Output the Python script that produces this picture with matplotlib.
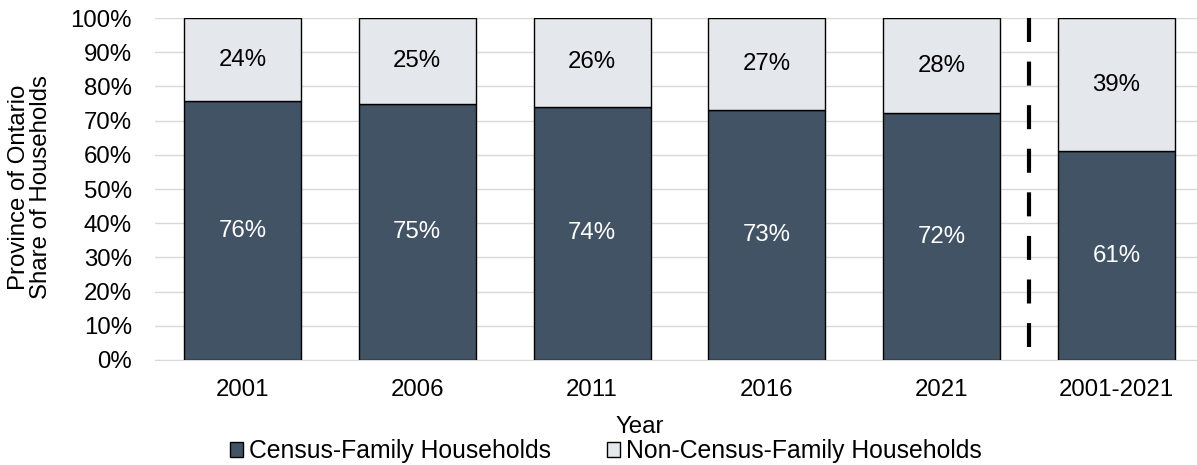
import matplotlib
matplotlib.use("Agg")
import matplotlib.pyplot as plt
from matplotlib.patches import Patch

plt.rcParams['font.family'] = ['Liberation Sans', 'DejaVu Sans']

categories = ["2001", "2006", "2011", "2016", "2021", "2001-2021"]
census_family = [75.7, 75.0, 74.0, 73.2, 72.2, 61.1]
non_census_family = [24.3, 25.0, 26.0, 26.8, 27.8, 38.9]
census_labels = ["76%", "75%", "74%", "73%", "72%", "61%"]
non_census_labels = ["24%", "25%", "26%", "27%", "28%", "39%"]
yticks = list(range(0, 101, 10))

dark = "#425366"
light = "#E4E8EC"
FS = 17.3
LFS = 17.8

W, H = 1197, 465
fig = plt.figure(figsize=(W / 100, H / 100), dpi=100)
ax = fig.add_axes([155 / W, 1 - 360 / H, (1204 - 155) / W, (360 - 18) / H])

x = list(range(len(categories)))
w = 0.67
ax.bar(x, census_family, width=w, color=dark, edgecolor="black", linewidth=1, zorder=3)
ax.bar(x, non_census_family, width=w, bottom=census_family, color=light,
       edgecolor="black", linewidth=1, zorder=3)

for i in x:
    ax.text(i, census_family[i] / 2, census_labels[i], ha="center", va="center",
            color="white", fontsize=FS, zorder=4)
    ax.text(i, census_family[i] + non_census_family[i] / 2, non_census_labels[i],
            ha="center", va="center", color="black", fontsize=FS, zorder=4)

ax.plot([4.5, 4.5], [100, 3.8], color="black", linewidth=3,
        linestyle=(0, (5.76, 4.7)), zorder=4, dash_capstyle="butt")

ax.set_xlim(-0.5, 5.5)
ax.set_ylim(0, 100)
ax.set_xticks(x)
ax.set_xticklabels(categories, fontsize=FS)
ax.set_yticks(yticks)
ax.set_yticklabels([f"{t}%" for t in yticks], fontsize=FS)
ax.tick_params(axis="both", length=0)
ax.tick_params(axis="x", pad=14)
ax.tick_params(axis="y", pad=16.5)
ax.grid(axis="y", color="#D9D9D9", linewidth=1, zorder=0)
for s in ["top", "right", "left"]:
    ax.spines[s].set_visible(False)
ax.spines["bottom"].set_color("#D9D9D9")

fig.text(30 / W, 1 - 187 / H, "Province of Ontario\nShare of Households", rotation=90,
         ha="center", va="center", fontsize=FS, linespacing=0.95)
fig.text(640 / W, 1 - 433 / H, "Year", ha="center", va="baseline", fontsize=FS)

handles = [Patch(facecolor=dark, edgecolor="black", linewidth=1, label="Census-Family Households"),
           Patch(facecolor=light, edgecolor="black", linewidth=1, label="Non-Census-Family Households")]
fig.legend(handles=handles, loc="center left", bbox_to_anchor=(230 / W, 1 - 451 / H),
           ncol=2, frameon=False, fontsize=LFS, handlelength=0.53, handleheight=0.53,
           handletextpad=0.24, columnspacing=2.27, borderaxespad=0, borderpad=0)

fig.savefig("out.png", dpi=100)
